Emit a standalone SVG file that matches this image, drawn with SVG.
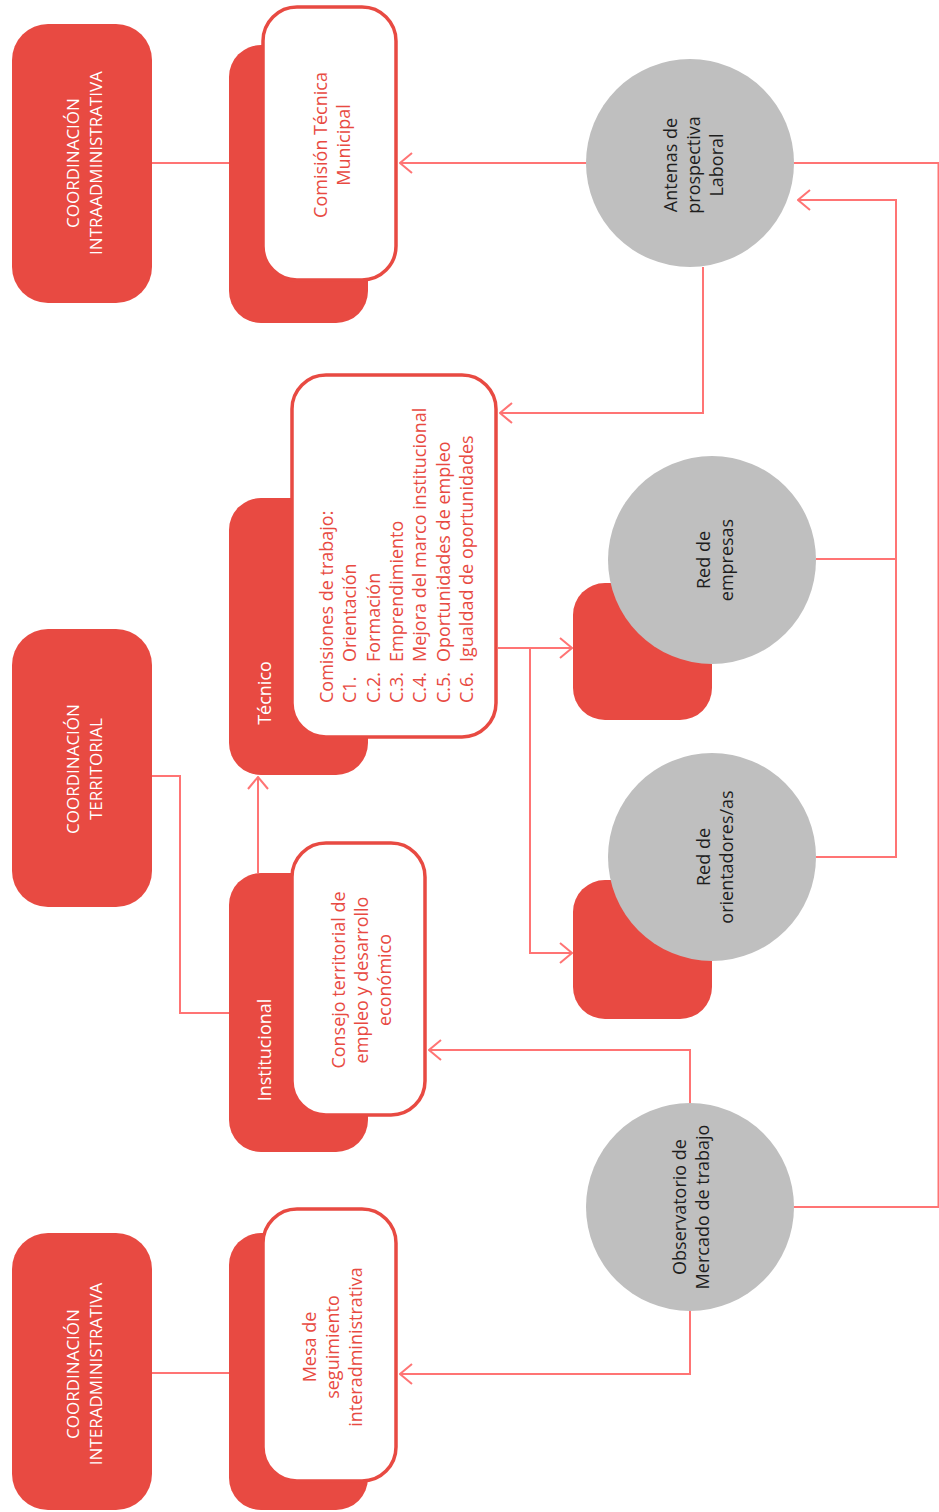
<svg xmlns="http://www.w3.org/2000/svg" width="939" height="1512" viewBox="0 0 939 1512">
<style>
.red{fill:#E84A42}
.card{fill:#FFFFFF;stroke:#E84A42;stroke-width:3.5}
.circ{fill:#BFBFBF}
.conn{fill:none;stroke:#FF7474;stroke-width:2}
.t{font-family:"Open Sans","Liberation Sans",sans-serif;font-size:18px;font-weight:500}
.cap{font-family:"Open Sans","Liberation Sans",sans-serif;font-size:17px;fill:#FFFFFF;font-weight:500}
.w{fill:#FFFFFF}
.r{fill:#E84A42}
.d{fill:#1E1E1E}
</style>
<defs>
<marker id="arr" markerUnits="userSpaceOnUse" viewBox="0 0 14 22" markerWidth="14" markerHeight="22" refX="13" refY="11" orient="auto">
<path d="M1,1 L13,11 L1,21" fill="none" stroke="#FF7474" stroke-width="2"/>
</marker>
</defs>
<rect width="939" height="1512" fill="#FFFFFF"/>

<g id="connectors">
<path class="conn" d="M152,163 H229"/>
<path class="conn" d="M586,163 H400" marker-end="url(#arr)"/>
<path class="conn" d="M794,163 H938.5 V1207 H794"/>
<path class="conn" d="M703,267 V413 H500" marker-end="url(#arr)"/>
<path class="conn" d="M816,559 H896"/>
<path class="conn" d="M816,857 H896 V200 H798" marker-end="url(#arr)"/>
<path class="conn" d="M498,648 H572" marker-end="url(#arr)"/>
<path class="conn" d="M530,648 V953 H572" marker-end="url(#arr)"/>
<path class="conn" d="M152,776 H180 V1013 H229"/>
<path class="conn" d="M258,873 V777" marker-end="url(#arr)"/>
<path class="conn" d="M690,1103 V1050 H429" marker-end="url(#arr)"/>
<path class="conn" d="M690,1311 V1374 H400" marker-end="url(#arr)"/>
<path class="conn" d="M152,1373 H229"/>
</g>

<g id="coord-intra">
<rect class="red" x="12" y="24" width="140" height="279" rx="36"/>
<text class="cap" transform="rotate(-90)" text-anchor="middle"><tspan x="-163" y="79">COORDINACIÓN</tspan><tspan x="-163" y="102">INTRAADMINISTRATIVA</tspan></text>
</g>

<g id="coord-territorial">
<rect class="red" x="12" y="629" width="140" height="278" rx="36"/>
<text class="cap" transform="rotate(-90)" text-anchor="middle"><tspan x="-769" y="79">COORDINACIÓN</tspan><tspan x="-769" y="102">TERRITORIAL</tspan></text>
</g>

<g id="coord-inter">
<rect class="red" x="12" y="1233" width="140" height="277" rx="36"/>
<text class="cap" transform="rotate(-90)" text-anchor="middle"><tspan x="-1374" y="79">COORDINACIÓN</tspan><tspan x="-1374" y="102">INTERADMINISTRATIVA</tspan></text>
</g>

<g id="comision-tecnica">
<rect class="red" x="229" y="45" width="139" height="278" rx="32"/>
<rect class="card" x="263" y="7" width="133" height="273" rx="34"/>
<text class="t r" transform="rotate(-90)" text-anchor="middle"><tspan x="-145" y="327">Comisión Técnica</tspan><tspan x="-145" y="350">Municipal</tspan></text>
</g>

<g id="tecnico">
<rect class="red" x="229" y="498" width="139" height="277" rx="32"/>
<rect class="card" x="292" y="375" width="204" height="362" rx="34"/>
<text class="t w" transform="rotate(-90)" text-anchor="middle" x="-693" y="271">Técnico</text>
<text class="t r" transform="rotate(-90)">
<tspan x="-703" y="333">Comisiones de trabajo:</tspan>
<tspan x="-703" y="356.3">C1.</tspan><tspan x="-662" y="356.3">Orientación</tspan>
<tspan x="-703" y="379.6">C.2.</tspan><tspan x="-662" y="379.6">Formación</tspan>
<tspan x="-703" y="403">C.3.</tspan><tspan x="-662" y="403">Emprendimiento</tspan>
<tspan x="-703" y="426.3">C.4.</tspan><tspan x="-662" y="426.3">Mejora del marco institucional</tspan>
<tspan x="-703" y="449.6">C.5.</tspan><tspan x="-662" y="449.6">Oportunidades de empleo</tspan>
<tspan x="-703" y="473">C.6.</tspan><tspan x="-662" y="473">Igualdad de oportunidades</tspan>
</text>
</g>

<g id="institucional">
<rect class="red" x="229" y="873" width="139" height="279" rx="32"/>
<rect class="card" x="292" y="843" width="133" height="272" rx="34"/>
<text class="t w" transform="rotate(-90)" text-anchor="middle" x="-1050" y="271">Institucional</text>
<text class="t r" transform="rotate(-90)" text-anchor="middle"><tspan x="-980" y="345">Consejo territorial de</tspan><tspan x="-980" y="368">empleo y desarrollo</tspan><tspan x="-980" y="391">económico</tspan></text>
</g>

<g id="mesa-seguimiento">
<rect class="red" x="229" y="1233" width="139" height="277" rx="32"/>
<rect class="card" x="263" y="1209" width="133" height="272" rx="34"/>
<text class="t r" transform="rotate(-90)" text-anchor="middle"><tspan x="-1347" y="316">Mesa de</tspan><tspan x="-1347" y="339">seguimiento</tspan><tspan x="-1347" y="362">interadministrativa</tspan></text>
</g>

<g id="antenas">
<circle class="circ" cx="690" cy="163" r="104"/>
<text class="t d" transform="rotate(-90)" text-anchor="middle"><tspan x="-165" y="677">Antenas de</tspan><tspan x="-165" y="700">prospectiva</tspan><tspan x="-165" y="723">Laboral</tspan></text>
</g>

<g id="red-empresas">
<rect class="red" x="573" y="583" width="139" height="137" rx="32"/>
<circle class="circ" cx="712" cy="560" r="104"/>
<text class="t d" transform="rotate(-90)" text-anchor="middle"><tspan x="-560" y="710">Red de</tspan><tspan x="-560" y="733">empresas</tspan></text>
</g>

<g id="red-orientadores">
<rect class="red" x="573" y="880" width="139" height="139" rx="32"/>
<circle class="circ" cx="712" cy="857" r="104"/>
<text class="t d" transform="rotate(-90)" text-anchor="middle"><tspan x="-857" y="710">Red de</tspan><tspan x="-857" y="733">orientadores/as</tspan></text>
</g>

<g id="observatorio">
<circle class="circ" cx="690" cy="1207" r="104"/>
<text class="t d" transform="rotate(-90)" text-anchor="middle"><tspan x="-1207" y="686">Observatorio de</tspan><tspan x="-1207" y="709">Mercado de trabajo</tspan></text>
</g>
</svg>
